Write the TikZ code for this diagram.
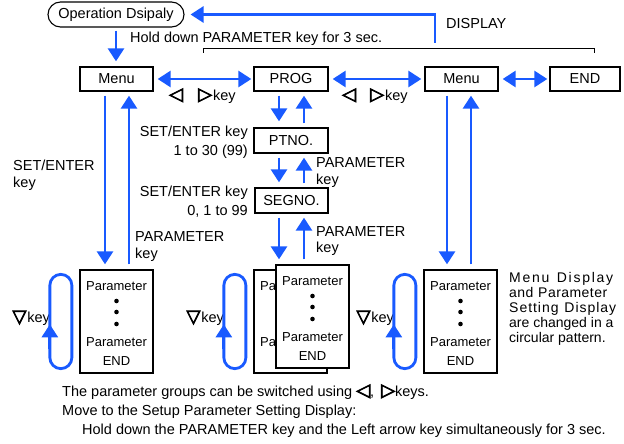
\documentclass[tikz,border=0pt]{standalone}
\usepackage{fontspec}
\setmainfont{Liberation Sans}
\newfontfamily\symf[FakeBold=4]{DejaVu Sans}
\newcommand\keytri[1]{{\symf\fontsize{18}{18}\selectfont #1}}
\ExplSyntaxOn
\NewDocumentCommand\spreadtext{mm}{\makebox[#1][s]{\tl_map_inline:nn{#2}{##1\hfil}\unskip}}
\ExplSyntaxOff
\usetikzlibrary{arrows.meta}
\definecolor{flowblue}{RGB}{25,90,255}

\begin{document}
\begin{tikzpicture}[x=1pt,y=-1pt,font=\fontsize{14.5}{17}\selectfont,
  box/.style={draw,line width=1.3pt,minimum width=73pt,minimum height=24pt,inner sep=0pt},
  parbox/.style={draw,fill=white,line width=1.3pt,minimum width=73pt,minimum height=103pt,inner sep=0pt},
  partext/.style={inner sep=0pt,font=\fontsize{13}{15}\selectfont},
  lbl/.style={inner sep=0pt,align=left},
  flow/.style={flowblue,line width=2.8pt,-{Triangle[length=13pt,width=16pt]}},
  flowboth/.style={flowblue,line width=2.8pt,{Triangle[length=13pt,width=16pt]}-{Triangle[length=13pt,width=16pt]}},
  cycleloop/.style={flowblue,line width=2.8pt,rounded corners=11pt}]
  \useasboundingbox (0,0) rectangle (624,444);
  % top row
  \node[draw,line width=1.1pt,rounded corners=12.5pt,minimum width=136pt,minimum height=25pt,inner sep=0pt] (opdisp) at (116,14.5) {Operation Dsipaly};
  \node[box] (menuA) at (116.5,79) {Menu};
  \node[box,minimum width=74pt] (prog) at (291,79) {PROG};
  \node[box] (menuB) at (461.5,79) {Menu};
  \node[box,minimum width=70pt] (endbox) at (585,79) {END};
  % program / segment
  \node[box,minimum width=74pt,minimum height=25pt] (ptno) at (291,140.5) {PTNO.};
  \node[box,minimum height=25pt] (segno) at (291.5,200.5) {SEGNO.};
  % parameter lists (middle one has a second box behind it)
  \node[parbox] (parB) at (290.5,321.5) {};
  \node[partext,anchor=west] (parB-top) at (260,286) {Pa};
  \node[partext,anchor=west] (parB-bot) at (260,342) {Pa};
  \foreach \n/\cx/\cy in {parA/116.5/321.5,parC/460.5/321.5,parBf/312.5/316.5}{
    \node[parbox] (\n) at (\cx,\cy) {};
    \node[partext] (\n-top) at (\cx,{\cy-35.5}) {Parameter};
    \foreach \d in {-20.5,-9.5,2.5} \fill (\cx,{\cy+\d}) circle (2.3pt);
    \node[partext] (\n-bot) at (\cx,{\cy+20.5}) {Parameter};
    \node[partext] (\n-end) at (\cx,{\cy+39.5}) {END};
  }
  % down key loops
  \foreach \b in {parA,parB,parC}{
    \node[lbl,anchor=base west] (\b-key) at ([xshift=-67pt,yshift=-53pt]\b.north west) {\keytri{▽}\hspace{1pt}key};
    \draw[cycleloop] ([xshift=-29.5pt,yshift=-5pt]\b.north west) rectangle ([xshift=-7.5pt,yshift=5pt]\b.south west);
    \draw[flow] ([xshift=-29.5pt,yshift=-80pt]\b.north west) -- ([xshift=-29.5pt,yshift=-55pt]\b.north west);
  }
  % operation display <-> menu
  \draw[flow,shorten <=3pt,shorten >=5pt] (opdisp.south) -- (opdisp.south |- menuA.north);
  \coordinate (dispfoot) at (435,43);
  \draw[flow,shorten >=6pt] (dispfoot) |- (opdisp.east);
  \draw[line width=0.9pt] (203,53) -- (203,48) -- (594,48) -- (594,53);
  \node[lbl,anchor=base west] (holdtxt) at (130,43) {Hold down PARAMETER key for 3 sec.};
  \node[lbl,anchor=base west] (disptxt) at (446,29) {DISPLAY};
  % left / right keys
  \draw[flowboth,shorten <=4pt,shorten >=2pt] (menuA) -- (prog);
  \draw[flowboth,shorten <=4pt,shorten >=3pt] (prog) -- (menuB);
  \draw[flowboth,shorten <=4pt,shorten >=2pt] (menuB) -- (endbox);
  \node[lbl,anchor=base west] (ltA) at (169,100) {\keytri{◁}};
  \node[lbl,anchor=base west] (rtA) at (198,100) {\keytri{▷}\hspace{1pt}key};
  \node[lbl,anchor=base west] (ltB) at (342,100) {\keytri{◁}};
  \node[lbl,anchor=base west] (rtB) at (370,100) {\keytri{▷}\hspace{1pt}key};
  % menu -> parameter
  \draw[flow,shorten <=4pt,shorten >=5pt] ([xshift=-11.5pt]menuA.south) -- ([xshift=-11.5pt]parA.north);
  \draw[flow,shorten <=5pt,shorten >=4pt] ([xshift=12.5pt]parA.north) -- ([xshift=12.5pt]menuA.south);
  \draw[flow,shorten <=4pt,shorten >=5pt] ([xshift=-14.5pt]menuB.south) -- ([xshift=-13.5pt]parC.north);
  \draw[flow,shorten <=5pt,shorten >=4pt] ([xshift=10.5pt]parC.north) -- ([xshift=9.5pt]menuB.south);
  % prog -> ptno -> segno -> parameter
  \draw[flow,shorten <=4pt,shorten >=6pt] ([xshift=-12pt]prog.south) -- ([xshift=-12pt]ptno.north);
  \draw[flow,shorten <=4pt,shorten >=4pt] ([xshift=13pt]ptno.north) -- ([xshift=13pt]prog.south);
  \draw[flow,shorten <=4pt,shorten >=5pt] ([xshift=-12pt]ptno.south) -- ([xshift=-12.5pt]segno.north);
  \draw[flow,shorten <=4pt,shorten >=4pt] ([xshift=12.5pt]segno.north) -- ([xshift=13pt]ptno.south);
  \coordinate (sgL) at ([xshift=-12.5pt]segno.south);
  \coordinate (sgR) at ([xshift=12.5pt]segno.south);
  \draw[flow,shorten <=4pt,shorten >=5pt] (sgL) -- (sgL |- parBf.north);
  \draw[flow,shorten <=5pt,shorten >=4pt] (sgR |- parBf.north) -- (sgR);
  % key labels
  \node[lbl,anchor=north west] (setA) at (13,159.5) {SET/ENTER\\key};
  \node[lbl,anchor=north west] (parmA) at (135,231.5) {PARAMETER\\key};
  \node[lbl,align=right,anchor=north east] (setB) at (248,125.5) {SET/ENTER key\\[2pt]1 to 30 (99)};
  \node[lbl,align=right,anchor=north east] (setC) at (248,185.5) {SET/ENTER key\\[2pt]0, 1 to 99};
  \node[lbl,anchor=north west] (parmB) at (316,157.5) {PARAMETER\\key};
  \node[lbl,anchor=north west] (parmC) at (316,226.5) {PARAMETER\\[-1pt]key};
  % note
  \node[lbl,anchor=north west,font=\fontsize{14}{15}\selectfont] (note) at (509,272.5)
    {\spreadtext{104pt}{Menu{\ }Display}\\\spreadtext{98pt}{and{\ }Parameter}\\\spreadtext{107pt}{Setting{\ }Display}\\are changed in a\\circular pattern.};
  % bottom text
  \node[lbl,anchor=base west] (foot1) at (62,396) {The parameter groups can be switched using \keytri{◁},\hspace{7pt}\keytri{▷}keys.};
  \node[lbl,anchor=base west] (foot2) at (62,415) {Move to the Setup Parameter Setting Display:};
  \node[lbl,anchor=base west] (foot3) at (82,434) {Hold down the PARAMETER key and the Left arrow key simultaneously for 3 sec.};
\end{tikzpicture}
\end{document}
